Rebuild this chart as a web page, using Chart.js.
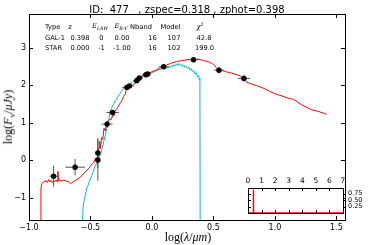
<!DOCTYPE html>
<html>
<head>
<meta charset="utf-8">
<script src="https://cdn.jsdelivr.net/npm/chart.js"></script>
<style>
    body { margin: 0; background: #fff; }
    #wrap { position: relative; width: 368px; height: 245px; overflow: hidden; font-family: "DejaVu Sans", sans-serif; color: #000; }
    canvas { position: absolute; }
    #main { left: 0; top: 0; }
    #inset { left: 240px; top: 170px; }
    .t { position: absolute; white-space: nowrap; line-height: 1; transform: translate(-50%, -50%); }
    .tl { position: absolute; white-space: nowrap; line-height: 1; transform: translate(0, -50%); }
    .tab { font-size: 6.7px; }
    .m { font-family: "DejaVu Serif", serif; font-style: italic; }
    .lo { font-size: 70%; position: relative; top: 0.35em; }
    .hi { font-size: 70%; position: relative; top: -0.45em; }
    .lab { font-family: "Liberation Serif", serif; font-size: 12px; }
</style>
</head>
<body>
<div id="wrap">
    <canvas id="main" width="368" height="245"></canvas>
    <canvas id="inset" width="128" height="52"></canvas>

    <div class="t" style="left:187px; top:10px; font-size:10px;">ID:&nbsp; 477 &nbsp;&nbsp;, zspec=0.318 , zphot=0.398</div>

    <!-- ===== FIT TABLE ===== -->
    <div class="tl tab" style="left:45px; top:26.5px;">Type</div>
    <div class="t tab" style="left:70px; top:26.5px;">z</div>
    <div class="t tab m" style="left:100px; top:26px;">E<span class="lo">LAW</span></div>
    <div class="t tab m" style="left:121px; top:26px;">E<span class="lo">B-V</span></div>
    <div class="t tab" style="left:141px; top:26.5px;">Nband</div>
    <div class="t tab" style="left:170.5px; top:26.5px;">Model</div>
    <div class="t tab m" style="left:200px; top:26.5px;">χ<span class="hi">2</span></div>

    <div class="tl tab" style="left:45px; top:37.5px;">GAL-1</div>
    <div class="t tab" style="left:80px; top:37.5px;">0.398</div>
    <div class="t tab" style="left:101.5px; top:37.5px;">0</div>
    <div class="t tab" style="left:122px; top:37.5px;">0.00</div>
    <div class="t tab" style="left:152.5px; top:37.5px;">16</div>
    <div class="t tab" style="left:174px; top:37.5px;">107</div>
    <div class="t tab" style="left:204px; top:37.5px;">42.8</div>

    <div class="tl tab" style="left:45px; top:47.5px;">STAR</div>
    <div class="t tab" style="left:80px; top:47.5px;">0.000</div>
    <div class="t tab" style="left:101.5px; top:47.5px;">-1</div>
    <div class="t tab" style="left:122px; top:47.5px;">-1.00</div>
    <div class="t tab" style="left:152.5px; top:47.5px;">16</div>
    <div class="t tab" style="left:174px; top:47.5px;">102</div>
    <div class="t tab" style="left:204.5px; top:47.5px;">199.0</div>

    <!-- ===== AXIS TITLES ===== -->
    <div class="t lab" style="left:188px; top:237px;">log(<i>λ</i>/<i>μm</i>)</div>
    <div class="t lab" style="left:8px; top:117px; transform: translate(-50%, -50%) rotate(-90deg);">log(<i>F</i><span class="lo"><i>ν</i></span>/<i>μJy</i>)</div>
</div>

<script>
// ===== TICKS =====
const xTicks = [-1.0, -0.5, 0.0, 0.5, 1.0, 1.5];
const yTicks = [-1, 0, 1, 2, 3];
const insetXTicks = [0, 1, 2, 3, 4, 5, 6, 7];
const insetYTicks = [0.25, 0.5, 0.75];

// ===== PHOTOMETRY =====
const obsX = [-0.80, -0.625, -0.44, -0.44, -0.365, -0.32, -0.203, -0.184, -0.124, -0.103, -0.049, -0.035, 0.095, 0.338, 0.545, 0.748];
const obsY = [-0.43, -0.19, 0.00, 0.19, 0.96, 1.27, 1.94, 1.98, 2.12, 2.19, 2.28, 2.30, 2.49, 2.68, 2.40, 2.18];
const obsXErr = [0.034, 0.08, 0.02, 0.02, 0.045, 0.05, 0.04, 0.04, 0.03, 0.03, 0.03, 0.03, 0.04, 0.045, 0.04, 0.05];
const obsYErr = [0.28, 0.22, 0.55, 0.40, 0.10, 0.06, 0.06, 0.05, 0.05, 0.05, 0.05, 0.05, 0.06, 0.07, 0.08, 0.10];

// ===== GALAXY TEMPLATE (red) =====
const galX = [-0.905, -0.903, -0.895, -0.88, -0.86, -0.85, -0.84, -0.83, -0.82, -0.81, -0.80, -0.79, -0.78, -0.77, -0.765, -0.76,
    -0.75, -0.74, -0.72, -0.70, -0.68, -0.66, -0.65, -0.63, -0.60, -0.58, -0.56, -0.54, -0.52, -0.50, -0.485, -0.47,
    -0.46, -0.45, -0.44, -0.43, -0.425, -0.42, -0.41, -0.40, -0.39, -0.38, -0.37, -0.36, -0.35, -0.34, -0.33, -0.32,
    -0.31, -0.30, -0.29, -0.28, -0.27, -0.26, -0.25, -0.24, -0.23, -0.22, -0.21, -0.20, -0.19, -0.17, -0.15, -0.13,
    -0.11, -0.09, -0.07, -0.05, -0.02, 0.0, 0.03, 0.06, 0.10, 0.15, 0.20, 0.25, 0.30, 0.34, 0.38, 0.42,
    0.46, 0.49, 0.51, 0.53, 0.56, 0.60, 0.65, 0.70, 0.74, 0.77, 0.80, 0.85, 0.90, 0.95, 1.00, 1.05,
    1.10, 1.15, 1.18, 1.22, 1.26, 1.30, 1.35, 1.40, 1.42];
const galY = [-1.7, -0.75, -0.62, -0.58, -0.55, -0.60, -0.52, -0.58, -0.54, -0.60, -0.55, -0.57, -0.53, -0.58, -0.30, -0.55,
    -0.53, -0.56, -0.54, -0.55, -0.58, -0.63, -0.60, -0.56, -0.50, -0.45, -0.37, -0.30, -0.25, -0.16, -0.10, -0.05,
    0.05, -0.02, 0.15, 0.35, 0.50, 0.30, 0.60, 0.55, 0.85, 0.78, 0.95, 1.00, 1.05, 1.10, 1.08, 1.20,
    1.18, 1.30, 1.35, 1.40, 1.45, 1.52, 1.55, 1.62, 1.70, 1.75, 1.85, 1.88, 1.92, 1.97, 2.02, 2.07,
    2.14, 2.19, 2.24, 2.27, 2.33, 2.36, 2.40, 2.45, 2.51, 2.58, 2.63, 2.66, 2.68, 2.70, 2.69, 2.66,
    2.62, 2.58, 2.52, 2.44, 2.40, 2.36, 2.32, 2.27, 2.20, 2.08, 2.04, 1.99, 1.93, 1.85, 1.77, 1.72,
    1.66, 1.62, 1.56, 1.47, 1.41, 1.34, 1.30, 1.25, 1.22];

// ===== STAR TEMPLATE (cyan) =====
const starX = [-0.565, -0.56, -0.55, -0.54, -0.53, -0.52, -0.51, -0.50, -0.49, -0.48, -0.47, -0.46, -0.45, -0.44, -0.43, -0.42,
    -0.41, -0.40, -0.39, -0.38, -0.37, -0.36, -0.35, -0.34, -0.33, -0.32, -0.31, -0.30, -0.29, -0.28, -0.27, -0.26,
    -0.25, -0.24, -0.22, -0.20, -0.18, -0.16, -0.14, -0.12, -0.10, -0.08, -0.06, -0.04, -0.02, 0.0, 0.02, 0.05,
    0.08, 0.10, 0.11, 0.12, 0.13, 0.14, 0.15, 0.16, 0.17, 0.18, 0.19, 0.20, 0.21, 0.22, 0.23, 0.24,
    0.25, 0.26, 0.27, 0.28, 0.29, 0.30, 0.31, 0.32, 0.33, 0.34, 0.35, 0.36, 0.37, 0.38, 0.385, 0.39, 0.392];
const starY = [-1.7, -1.25, -1.05, -0.90, -0.75, -0.68, -0.58, -0.50, -0.42, -0.33, -0.22, -0.15, -0.08, 0.00, 0.08, 0.15,
    0.25, 0.38, 0.52, 0.65, 0.80, 0.92, 1.10, 1.30, 1.38, 1.45, 1.50, 1.58, 1.62, 1.68, 1.74, 1.78,
    1.83, 1.87, 1.95, 2.00, 2.04, 2.08, 2.13, 2.17, 2.22, 2.25, 2.28, 2.31, 2.33, 2.33, 2.36, 2.40,
    2.44, 2.46, 2.43, 2.49, 2.45, 2.51, 2.47, 2.53, 2.49, 2.55, 2.51, 2.57, 2.52, 2.58, 2.53, 2.56,
    2.50, 2.54, 2.47, 2.51, 2.44, 2.48, 2.40, 2.44, 2.36, 2.39, 2.30, 2.33, 2.22, 2.26, 2.15, 2.18, -1.7];

// ===== PHOTO-Z PDF (inset) =====
const pdfZ = [0.0, 0.37, 0.39, 0.40, 0.42, 7.0];
const pdfP = [0.0, 0.0, 0.90, 0.05, 0.0, 0.0];

const pts = (xs, ys) => xs.map((x, i) => ({ x: x, y: ys[i] }));
const fmt = (v, d) => (v < 0 ? "\u2212" : "") + Math.abs(v).toFixed(d);

/* ===== PLUGINS ===== */
// frame + inward ticks, matplotlib style
const frameTicks = {
    id: "frameTicks",
    beforeDraw(chart, args, opts) {
        if (!opts.fill) return;
        const a = chart.chartArea;
        chart.ctx.save();
        chart.ctx.fillStyle = "#fff";
        chart.ctx.fillRect(a.left, a.top, a.right - a.left, a.bottom - a.top);
        chart.ctx.restore();
    },
    afterDraw(chart, args, opts) {
        const { ctx, chartArea: a, scales } = chart;
        const len = opts.len || 4;
        ctx.save();
        ctx.strokeStyle = "#000";
        ctx.lineWidth = 1;
        ctx.beginPath();
        scales.x.ticks.forEach(t => {
            const px = Math.round(scales.x.getPixelForValue(t.value)) + 0.5;
            ctx.moveTo(px, a.bottom); ctx.lineTo(px, a.bottom - len);
            ctx.moveTo(px, a.top); ctx.lineTo(px, a.top + len);
        });
        scales.y.ticks.forEach(t => {
            const py = Math.round(scales.y.getPixelForValue(t.value)) + 0.5;
            ctx.moveTo(a.left, py); ctx.lineTo(a.left + len, py);
            if (opts.rightOut) {
                ctx.moveTo(a.right, py); ctx.lineTo(a.right + len, py);
            } else {
                ctx.moveTo(a.right, py); ctx.lineTo(a.right - len, py);
            }
        });
        ctx.stroke();
        ctx.strokeRect(Math.round(a.left) + 0.5, Math.round(a.top) + 0.5,
            Math.round(a.right - a.left), Math.round(a.bottom - a.top));
        ctx.restore();
    }
};

// error bars under the photometry points
const errorBars = {
    id: "errorBars",
    beforeDatasetDraw(chart, args) {
        if (args.index !== 0) return;
        const { ctx, scales } = chart;
        ctx.save();
        ctx.strokeStyle = "#555";
        ctx.lineWidth = 1;
        ctx.beginPath();
        obsX.forEach((x, i) => {
            const y = obsY[i];
            const px = scales.x.getPixelForValue(x);
            const py = scales.y.getPixelForValue(y);
            ctx.moveTo(scales.x.getPixelForValue(x - obsXErr[i]), py);
            ctx.lineTo(scales.x.getPixelForValue(x + obsXErr[i]), py);
            ctx.moveTo(px, scales.y.getPixelForValue(y - obsYErr[i]));
            ctx.lineTo(px, scales.y.getPixelForValue(y + obsYErr[i]));
        });
        ctx.stroke();
        ctx.restore();
    }
};

const tickFont = { family: "DejaVu Sans", size: 8 };

// ===== MAIN SED =====
new Chart(document.getElementById("main"), {
    type: "scatter",
    data: {
        datasets: [
            {
                label: "obs",
                data: pts(obsX, obsY),
                pointRadius: 2.7,
                pointBackgroundColor: "#000",
                pointBorderColor: "#000",
                pointBorderWidth: 0,
                order: 0
            },
            {
                label: "GAL-1",
                data: pts(galX, galY),
                showLine: true,
                borderColor: "#ff0000",
                borderWidth: 1,
                pointRadius: 0,
                order: 1
            },
            {
                label: "STAR",
                data: pts(starX, starY),
                showLine: true,
                borderColor: "#00bfbf",
                borderWidth: 1,
                pointRadius: 0,
                order: 2
            }
        ]
    },
    options: {
        responsive: false,
        animation: false,
        layout: { padding: { top: 14, right: 23, left: 0, bottom: 0 } },
        plugins: {
            legend: { display: false },
            tooltip: { enabled: false },
            frameTicks: { len: 4 }
        },
        scales: {
            x: {
                type: "linear",
                min: -1.0,
                max: 1.57,
                afterBuildTicks: s => { s.ticks = xTicks.map(v => ({ value: v })); },
                afterFit: s => { s.height = 25; },
                ticks: { font: tickFont, color: "#000", padding: 3, maxRotation: 0, autoSkip: false, callback: v => fmt(v, 1) },
                grid: { display: false, drawTicks: false },
                border: { display: false }
            },
            y: {
                type: "linear",
                min: -1.6,
                max: 3.9,
                afterBuildTicks: s => { s.ticks = yTicks.map(v => ({ value: v })); },
                afterFit: s => { s.width = 29; },
                ticks: { font: tickFont, color: "#000", padding: 3, callback: v => fmt(v, 0) },
                grid: { display: false, drawTicks: false },
                border: { display: false }
            }
        }
    },
    plugins: [errorBars, frameTicks]
});

// ===== INSET PDF =====
new Chart(document.getElementById("inset"), {
    type: "scatter",
    data: {
        datasets: [{
            label: "PDF",
            data: pts(pdfZ, pdfP),
            showLine: true,
            borderColor: "#ff0000",
            borderWidth: 1.5,
            pointRadius: 0
        }]
    },
    options: {
        responsive: false,
        animation: false,
        layout: { padding: { top: 0, right: 0, left: 8, bottom: 5 } },
        plugins: {
            legend: { display: false },
            tooltip: { enabled: false },
            frameTicks: { len: 3, fill: true, rightOut: true }
        },
        scales: {
            x: {
                type: "linear",
                position: "top",
                min: 0,
                max: 7,
                afterBuildTicks: s => { s.ticks = insetXTicks.map(v => ({ value: v })); },
                afterFit: s => { s.height = 18; },
                ticks: { font: { family: "DejaVu Sans", size: 7.5 }, color: "#000", padding: 2, maxRotation: 0, autoSkip: false },
                grid: { display: false, drawTicks: false },
                border: { display: false }
            },
            y: {
                type: "linear",
                position: "right",
                min: 0,
                max: 0.97,
                afterBuildTicks: s => { s.ticks = insetYTicks.map(v => ({ value: v })); },
                afterFit: s => { s.width = 25; },
                ticks: { font: { family: "DejaVu Sans", size: 6.5 }, color: "#000", padding: 5, autoSkip: false, callback: v => v.toFixed(2) },
                grid: { display: false, drawTicks: false },
                border: { display: false }
            }
        }
    },
    plugins: [frameTicks]
});
</script>
</body>
</html>
